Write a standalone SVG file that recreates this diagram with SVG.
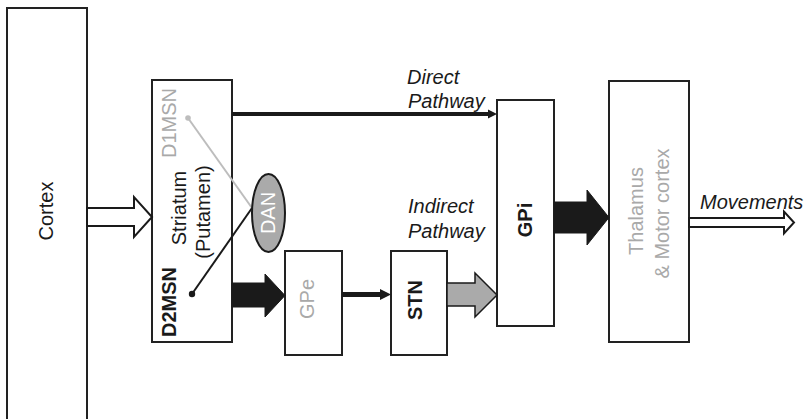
<svg xmlns="http://www.w3.org/2000/svg" width="807" height="419" viewBox="0 0 807 419">
  <style>
    .box { fill: #fff; stroke: #222; stroke-width: 2; }
    .lbl { font-family: "Liberation Sans", Arial, sans-serif; font-size: 20px; text-anchor: middle; }
    .dark { fill: #1a1a1a; }
    .pale { fill: #a9a9a9; }
    .bold { font-weight: bold; }
    .path-lbl { font-family: "Liberation Sans", Arial, sans-serif; font-size: 20px; font-style: italic; fill: #1a1a1a; }
    .hollow { fill: #fff; stroke: #1a1a1a; stroke-width: 2; stroke-linejoin: miter; }
    .solid { fill: #1a1a1a; stroke: #1a1a1a; stroke-width: 1; }
    .grey { fill: #aaa; stroke: #1a1a1a; stroke-width: 1.5; }
  </style>

  <rect width="807" height="419" fill="#fff"/>

  <!-- Nodes -->
  <g id="cortex">
    <path class="box" d="M7 425 V8 H87 V425"/>
    <text class="lbl dark" transform="translate(53 211) rotate(-90)">Cortex</text>
  </g>

  <g id="striatum">
    <rect class="box" x="152" y="80" width="80" height="262"/>
    <text class="lbl pale" transform="translate(175.5 123) rotate(-90)">D1MSN</text>
    <text class="lbl dark" transform="translate(186 208) rotate(-90)">Striatum</text>
    <text class="lbl dark" transform="translate(209.5 212) rotate(-90)">(Putamen)</text>
    <text class="lbl dark bold" transform="translate(175.5 302) rotate(-90)">D2MSN</text>
  </g>

  <g id="gpe">
    <rect class="box" x="285" y="251" width="57" height="104"/>
    <text class="lbl pale" transform="translate(314 299) rotate(-90)">GPe</text>
  </g>

  <g id="stn">
    <rect class="box" x="391" y="251" width="56" height="104"/>
    <text class="lbl dark bold" transform="translate(421.5 300) rotate(-90)">STN</text>
  </g>

  <g id="gpi">
    <rect class="box" x="497" y="100" width="57" height="226"/>
    <text class="lbl dark bold" transform="translate(532 220) rotate(-90)">GPi</text>
  </g>

  <g id="thalamus">
    <rect class="box" x="609" y="81" width="80" height="261"/>
    <text class="lbl pale" transform="translate(643 211) rotate(-90)">Thalamus</text>
    <text class="lbl pale" transform="translate(669 213.5) rotate(-90)">&amp; Motor cortex</text>
  </g>

  <!-- Connectors -->
  <g id="connectors">
    <!-- cortex to striatum -->
    <polygon class="hollow" points="87,208 134,208 134,197 152,217 134,237 134,226 87,226"/>
    <!-- direct pathway -->
    <line x1="232" y1="114" x2="490" y2="114" stroke="#1a1a1a" stroke-width="4"/>
    <polygon points="488,109.5 497,114 488,118.5" fill="#1a1a1a"/>
    <!-- striatum to GPe -->
    <polygon class="solid" points="232,283 265,283 265,274 285,295.5 265,317 265,307 232,307"/>
    <!-- GPe to STN -->
    <line x1="342" y1="294.5" x2="382" y2="294.5" stroke="#1a1a1a" stroke-width="5"/>
    <polygon points="380,289 391,294.5 380,300" fill="#1a1a1a"/>
    <!-- STN to GPi -->
    <polygon class="grey" points="447,283 475,283 475,273 497,295 475,317 475,306 447,306"/>
    <!-- GPi to thalamus -->
    <polygon class="solid" points="554,202 587,202 587,190 609,217.5 587,245 587,233 554,233"/>
    <!-- output -->
    <polygon class="hollow" points="689,218 784,218 784,211.5 794,222.5 784,233.5 784,227 689,227"/>
  </g>

  <!-- Dopaminergic input -->
  <g id="dan">
    <line x1="188" y1="118" x2="252" y2="208" stroke="#bdbdbd" stroke-width="2"/>
    <circle cx="188" cy="118" r="2.8" fill="#bdbdbd"/>
    <line x1="192" y1="294" x2="252" y2="208" stroke="#1a1a1a" stroke-width="2"/>
    <circle cx="192" cy="294" r="3.2" fill="#1a1a1a"/>
    <ellipse cx="268.5" cy="213" rx="16.5" ry="39" fill="#aaa" stroke="#1a1a1a" stroke-width="2"/>
    <text class="lbl" fill="#fff" transform="translate(275 213) rotate(-90)">DAN</text>
  </g>

  <!-- Pathway labels -->
  <g id="labels">
    <text class="path-lbl" x="407" y="84">Direct</text>
    <text class="path-lbl" x="408" y="107.5">Pathway</text>
    <text class="path-lbl" x="408" y="213">Indirect</text>
    <text class="path-lbl" x="408" y="237.5">Pathway</text>
    <text class="path-lbl" x="700" y="209">Movements</text>
  </g>
</svg>
